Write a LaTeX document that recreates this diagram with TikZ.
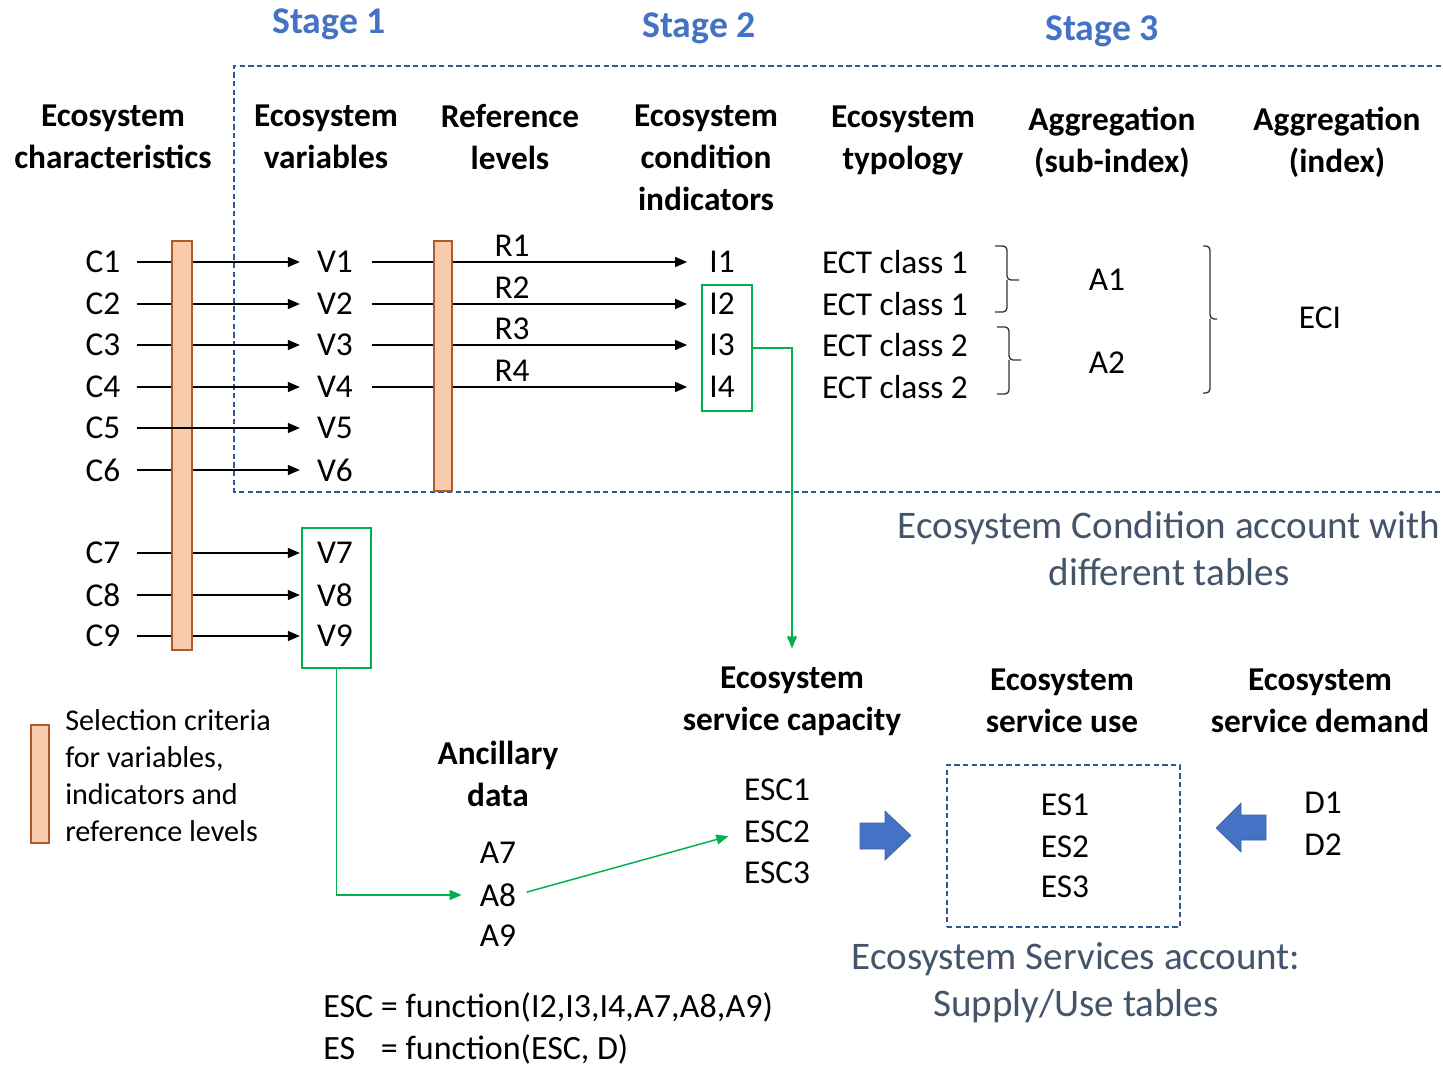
\documentclass[tikz,border=0pt]{standalone}
\usepackage{fontspec}
\setmainfont{Carlito}
\usetikzlibrary{arrows.meta}
\definecolor{stageblue}{RGB}{68,114,196}
\definecolor{frameblue}{RGB}{47,85,151}
\definecolor{capgray}{RGB}{68,84,106}
\definecolor{selfill}{RGB}{248,203,173}
\definecolor{seldraw}{RGB}{175,90,40}
\definecolor{linkgreen}{RGB}{0,176,80}
\newcommand\mainsize{\fontsize{25}{31.5}\selectfont}
\begin{document}
\begin{tikzpicture}[x=0.75pt,y=-0.75pt,
  lbl/.style={inner sep=0pt, font=\mainsize},
  head/.style={inner sep=0pt, font=\mainsize\bfseries, align=center},
  stagelbl/.style={inner sep=0pt, font=\fontsize{28.3}{34}\selectfont\bfseries, text=stageblue},
  captxt/.style={inner sep=0pt, font=\fontsize{29.3}{35.25}\selectfont, text=capgray, align=center},
  flow/.style={line width=1.1pt, -{Triangle[length=9pt,width=7.5pt]}},
  glink/.style={line width=1.1pt, draw=linkgreen, -{Triangle[length=9pt,width=7.5pt]}},
  gbox/.style={draw=linkgreen, line width=1.1pt, inner sep=0pt},
  selbar/.style={draw=seldraw, fill=selfill, line width=1.1pt},
  frame/.style={draw=frameblue, line width=0.9pt, dash pattern=on 4pt off 2.5pt},
  brace/.style={line width=1pt, draw=black!80, rounded corners=3pt},
  blockarrow/.style={fill=stageblue, draw=stageblue!85!black, line width=0.5pt}]
\useasboundingbox (0,0) rectangle (1443,1069);

% stage titles and the dashed frame of the condition account
\node[stagelbl] (stage1) at (329,24) {Stage 1};
\node[stagelbl] (stage2) at (699,28) {Stage 2};
\node[stagelbl] (stage3) at (1102,31) {Stage 3};
\draw[frame] (1441,66) -- (234,66) -- (234,492) -- (1441,492);

% column headings
\node[head] (hchar) at (113,137) {Ecosystem\\characteristics};
\node[head] (hvar) at (326,137) {Ecosystem\\variables};
\node[head] (href) at (510,137) {Reference\\levels};
\node[head] (hind) at (706,158) {Ecosystem\\condition\\indicators};
\node[head] (htyp) at (903,141) {Ecosystem\\typology};
\node[head] (hsub) at (1112,142) {Aggregation\\(sub-index)};
\node[head] (hidx) at (1337,142) {Aggregation\\(index)};

% characteristics and variables
\foreach \i/\y in {1/262,2/304,3/345,4/387,5/428,6/470,7/553,8/595,9/636}{
  \node[lbl] (c\i) at (103,\y) {C\i};
  \node[lbl] (v\i) at (335,\y) {V\i};
}
% indicators and reference levels
\foreach \i/\y in {1/262,2/304,3/345,4/387}{
  \node[lbl] (i\i) at (722,\y) {I\i};
}
\foreach \i/\y in {1/246,2/288,3/329,4/371}{
  \node[lbl] (r\i) at (512,\y) {R\i};
}
% typology classes and aggregates
\node[lbl] (ect1) at (895,262) {ECT class 1};
\node[lbl] (ect2) at (895,304) {ECT class 1};
\node[lbl] (ect3) at (895,345) {ECT class 2};
\node[lbl] (ect4) at (895,387) {ECT class 2};
\node[lbl] (agg1) at (1107,280) {A1};
\node[lbl] (agg2) at (1107,363) {A2};
\node[lbl] (eci) at (1320,318) {ECI};

% arrows from characteristics to variables, and variables to indicators
\foreach \i in {1,2,3,4,6,7,8,9}
  \draw[flow, shorten <=12pt, shorten >=12.75pt] (c\i) -- (v\i);
\foreach \i in {1,2,3,4}
  \draw[flow, shorten <=14pt, shorten >=16.5pt] (v\i) -- (i\i);

% selection-criteria bars over the arrows
\draw[selbar] (172,241) rectangle (192,650);
\draw[selbar] (434,241) rectangle (452,491);
\draw[flow, shorten <=12pt, shorten >=12.75pt] (c5) -- (v5);

% braces grouping typology classes
\draw[brace] (995,246) -- (1007,246) -- (1007,280) -- (1019,280);
\draw[brace] (995,312) -- (1007,312) -- (1007,280);
\draw[brace] (997,327) -- (1009,327) -- (1009,360) -- (1021,360);
\draw[brace] (997,394) -- (1009,394) -- (1009,360);
\draw[brace] (1203,246) -- (1210,246) -- (1210,319) -- (1217,319);
\draw[brace] (1203,393) -- (1210,393) -- (1210,319);

\node[captxt] (capcond) at (1169,549) {Ecosystem Condition account with\\different tables};

% green selections and links to the services account
\node[gbox, minimum width=37.5pt, minimum height=94.5pt] (ibox) at (727,348) {};
\node[gbox, minimum width=51.75pt, minimum height=105pt] (vbox) at (336.5,598) {};

\node[head] (hanc) at (498,774) {Ancillary\\data};
\node[head] (hcap) at (792,701) {Ecosystem\\service capacity};
\node[head] (huse) at (1062,701) {Ecosystem\\service use};
\node[head] (hdem) at (1320,701) {Ecosystem\\service demand};

\foreach \i/\y in {7/853,8/895,9/936}
  \node[lbl] (a\i) at (498,\y) {A\i};
\foreach \i/\y in {1/790,2/832,3/873}
  \node[lbl] (esc\i) at (777,\y) {ESC\i};
\foreach \i/\y in {1/805,2/847,3/887}
  \node[lbl] (es\i) at (1065,\y) {ES\i};
\node[lbl] (d1) at (1323,803) {D1};
\node[lbl] (d2) at (1323,845) {D2};

\draw[glink] (ibox.east) -| ([yshift=13.5pt]hcap.north);
\draw[glink, shorten >=13.5pt] (vbox.south) |- (a8.west);
\draw[glink, shorten <=8pt, shorten >=12pt] (a8.east) -- (esc2.west);

% supply/use box and block arrows
\node[frame, inner sep=0pt, minimum width=174.75pt, minimum height=121.5pt] (esbox) at (1063.5,846) {};
\filldraw[blockarrow] (860,823) -- (885,823) -- (885,811) -- (911,835.5) -- (885,860) -- (885,849) -- (860,849) -- cycle;
\filldraw[blockarrow] (1266,815) -- (1241,815) -- (1241,803) -- (1216,828) -- (1241,852) -- (1241,840) -- (1266,840) -- cycle;

\node[captxt] (capserv) at (1076,983) {Ecosystem Services account:\\Supply/Use tables};

% legend
\draw[selbar] (31,725) rectangle (49,843);
\node[inner sep=0pt, anchor=west, align=left, font=\fontsize{22.6}{27.75}\selectfont] (legendtxt) at (65,776)
  {Selection criteria\\for variables,\\indicators and\\reference levels};

% formulas
\node[inner sep=0pt, anchor=west, font=\fontsize{25.5}{31.5}\selectfont] (formula) at (323,1030)
  {\begin{tabular}{@{}l@{\ }l@{}}ESC & = function(I2,I3,I4,A7,A8,A9)\\ES & = function(ESC,\ D)\end{tabular}};
\end{tikzpicture}
\end{document}
